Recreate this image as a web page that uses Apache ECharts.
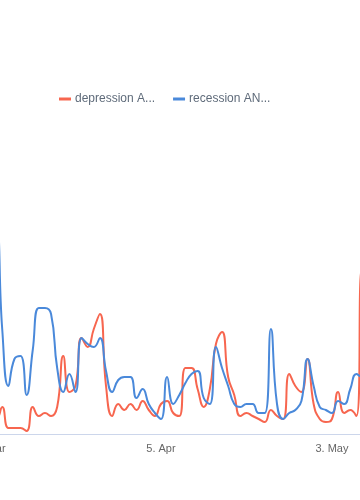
<!DOCTYPE html>
<html>
<head>
<meta charset="utf-8">
<style>
html,body{margin:0;padding:0;background:#fff;}
#chart{width:360px;height:500px;}
</style>
<script src="https://cdn.jsdelivr.net/npm/echarts@6/dist/echarts.min.js"></script>
</head>
<body>
<div id="chart"></div>
<script>
// Dates: 8 Mar .. 9 May (daily)
var monthNames = ['Jan','Feb','Mar','Apr','May','Jun','Jul','Aug','Sep','Oct','Nov','Dec'];
var startDate = {month: 2, day: 8}; // 8 Mar
var dayCount = 63;
var tickLabels = ['8. Mar', '5. Apr', '3. May'];
var tickEvery = 28;

var seriesNames = ['depression A...', 'recession AN...'];

var depression = [5, 5, 9, 2, 2, 2, 1, 9, 6, 7, 6, 9, 26, 14, 16, 32, 29, 35, 40, 16,
  6, 10, 8, 10, 8, 11, 8, 6, 10, 11, 7, 6, 22, 22, 15, 9, 15, 30, 34, 19,
  13, 6, 7, 6, 5, 4, 8, 6, 5, 20, 16, 14, 25, 10, 5, 4, 5, 14, 7, 8,
  6, 56, 50];

var recession = [60, 70, 35, 16, 25, 26, 13, 28, 42, 42, 40, 22, 14, 20, 14, 32, 30, 29, 32, 21,
  14, 18, 19, 19, 12, 15, 10, 7, 5, 19, 10, 13, 17, 20, 21, 12, 10, 29, 22, 16,
  10, 9, 10, 10, 7, 7, 35, 10, 5, 7, 8, 11, 25, 16, 9, 8, 7, 11, 10, 15,
  20, 19, 19];

var categories = [];
(function(){
  var m = startDate.month, d = startDate.day;
  var dim = [31,28,31,30,31,30,31,31,30,31,30,31];
  for (var i = 0; i < dayCount; i++) {
    categories.push(d + '. ' + monthNames[m]);
    d++;
    if (d > dim[m]) { d = 1; m++; }
  }
})();

var chart = echarts.init(document.getElementById('chart'), null, {renderer: 'canvas'});
chart.setOption({
  animation: false,
  color: ['#f7664f', '#4a89da'],
  legend: {
    top: 88,
    left: 54,
    itemGap: 18,
    itemWidth: 12,
    itemHeight: 3,
    icon: 'rect',
    textStyle: {color: '#5f6b7a', fontSize: 12, fontFamily: 'Liberation Sans, Arial, sans-serif', padding: [0,0,0,-1]},
    data: seriesNames
  },
  grid: {left: -10, right: -8.6, top: 134, bottom: 66, containLabel: false, outerBoundsMode: 'none'},
  xAxis: {
    type: 'category',
    boundaryGap: false,
    data: categories,
    axisLine: {show: true, lineStyle: {color: '#ccd6eb', width: 1}},
    axisTick: {show: false},
    splitLine: {show: false},
    axisLabel: {
      color: '#666666',
      fontSize: 11,
      fontFamily: 'Liberation Sans, Arial, sans-serif',
      margin: 9,
      hideOverlap: false,
      interval: function(i, v){ return i % tickEvery === 0 && tickLabels.indexOf(v) >= 0; }
    }
  },
  yAxis: {
    type: 'value',
    min: 0,
    max: 100,
    show: false,
    splitLine: {show: false}
  },
  series: [
    {name: seriesNames[0], type: 'line', data: depression, smooth: 0.5, symbol: 'none', lineStyle: {width: 2}},
    {name: seriesNames[1], type: 'line', data: recession, smooth: 0.5, symbol: 'none', lineStyle: {width: 2}}
  ]
});
</script>
</body>
</html>
